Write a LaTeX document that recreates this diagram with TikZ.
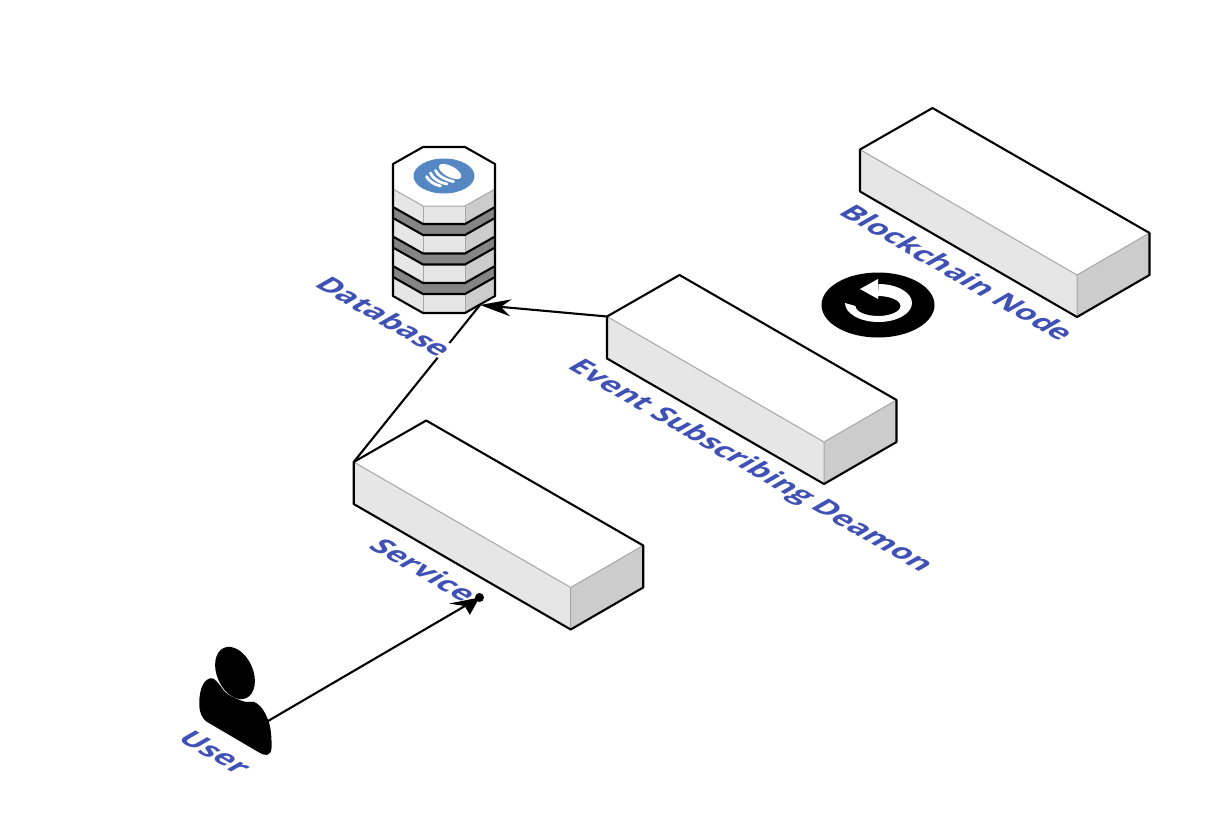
\documentclass[tikz,border=0pt]{standalone}
\usepackage{fontspec}
\setmainfont{Open Sans}
\usetikzlibrary{arrows.meta}
\definecolor{lbl}{HTML}{3F51B5}
\definecolor{facefront}{HTML}{E6E6E6}
\definecolor{faceright}{HTML}{CCCCCC}
\definecolor{band}{HTML}{858585}
\definecolor{edgegrey}{HTML}{A6A6A6}
\definecolor{logo}{HTML}{5588C2}
\tikzset{
  outline/.style={draw=black,line width=2.1pt,line join=round},
  inner edge/.style={draw=edgegrey,line width=1pt},
  conn/.style={draw=black,line width=2.1pt},
  stripe/.style={draw=white,line width=2.8pt,line cap=round},
  isolabel/.style={text=lbl,font=\fontsize{30.8}{35}\selectfont\bfseries,inner sep=0pt,
     cm={0.866,-0.5,0.78,0.45,(0,0)}},
  blockbox/.pic={
    \fill[white] (0,0)--(72.5,-41.5)--(289.5,83.5)--(217,125.5)--cycle;
    \fill[facefront] (0,0)--(217,125.5)--(217,167.5)--(0,42)--cycle;
    \fill[faceright] (217,125.5)--(289.5,83.5)--(289.5,125.5)--(217,167.5)--cycle;
    \draw[inner edge] (0,0)--(217,125.5)--(289.5,83.5) (217,125.5)--(217,167.5);
    \draw[outline] (0,0)--(72.5,-41.5)--(289.5,83.5)--(289.5,125.5)--(217,167.5)--(0,42)--cycle;
  }
}
\begin{document}
\begin{tikzpicture}[x=1pt,y=1pt,yscale=-1]
\useasboundingbox (0,0) rectangle (1206,822);
% boxes
\pic[yscale=-1] at (860,149.5) {blockbox};
\pic[yscale=-1] at (607,316.5) {blockbox};
\pic[yscale=-1] at (353.7,462) {blockbox};
% database body
\fill[faceright] (465,147)--(495,164)--(495,296)--(465,313)--cycle;
\fill[facefront] (423,147)--(465,147)--(465,313)--(423,313)--(393,296)--(393,164)--cycle;
\draw[inner edge,draw=edgegrey] (423,206)--(423,313) (465,206)--(465,313);
\foreach \d in {0,29.5,59}{
  \fill[band] (393,207+\d)--(423,224+\d)--(465,224+\d)--(495,207+\d)--(495,218+\d)--(465,235+\d)--(423,235+\d)--(393,218+\d)--cycle;
  \draw[outline] (393,207+\d)--(423,224+\d)--(465,224+\d)--(495,207+\d);
  \draw[outline] (393,218+\d)--(423,235+\d)--(465,235+\d)--(495,218+\d);
}
\fill[white] (423,147)--(465,147)--(495,164)--(495,189)--(465,206)--(423,206)--(393,189)--(393,164)--cycle;
\draw[inner edge] (393,189)--(423,206)--(465,206)--(495,189);
\draw[outline] (423,147)--(465,147)--(495,164)--(495,296)--(465,313)--(423,313)--(393,296)--(393,164)--cycle;
% logo
\fill[logo] (444,176) ellipse [x radius=30.5,y radius=17.5];
\fill[white,rotate around={28:(450,171.5)}] (450,171.5) ellipse [x radius=12.5,y radius=5.5];
\draw[stripe] (435.5,170.5) .. controls (437,175) and (445,180) .. (453.5,181.5);
\draw[stripe] (430.5,173) .. controls (432,178) and (440,183) .. (447,184);
\draw[stripe] (426.5,176.5) .. controls (428,180) and (434,185) .. (440.5,186);
% refresh symbol
\fill[black] (878,305) ellipse [x radius=56.5,y radius=32.5];
\fill[white] (845,303) arc[start angle=180,end angle=-90,x radius=33.5,y radius=19] --
  (878,296) arc[start angle=-90,end angle=180,x radius=22.5,y radius=10] -- cycle;
\fill[white,line join=round] (860,289)--(878,279)--(878,299)--cycle;
% user
\fill[black,rotate around={66:(235,673)}] (235,673) ellipse [x radius=27.5,y radius=18];
\fill[black] (210,678.3) .. controls (201,681) and (199,695) .. (199.3,705)
  .. controls (199.5,713) and (202,718) .. (206.7,721.7)
  -- (258.3,752) .. controls (264,756) and (271,757) .. (271.5,748)
  .. controls (272,735) and (270,722) .. (266.7,716.7)
  .. controls (263,708) and (258,703) .. (253.3,701.7)
  .. controls (248,702) and (244,702) .. (241.7,700.7)
  .. controls (234,698) and (228,695) .. (225,691.7)
  .. controls (221,688) and (216,677) .. (210,678.3) -- cycle;
% anchor coordinates
\coordinate (userport) at (268,721);
\coordinate (serviceport) at (479.5,597.5);
\coordinate (dbport) at (480,305);
\coordinate (eventcorner) at (607,316.5);
\coordinate (servicecorner) at (353.7,462);
% connectors
\draw[conn] (servicecorner) -- (dbport);
\node[isolabel,fill=white] (lblDatabase) at (384.8,316.5) {Database};
\draw[conn,-{Stealth[length=23pt,width=20pt,inset=6pt,slant=-0.6]}] (userport) -- (serviceport);
\fill[black] (serviceport) circle (4.5);
\draw[conn,-{Stealth[length=31pt,width=17pt,inset=10pt]}] (eventcorner) -- (dbport);
% labels
\node[isolabel] (lblBlockchain) at (958.2,272.5) {Blockchain Node};
\node[isolabel] (lblEvent) at (750,466.5) {Event Subscribing Deamon};
\node[isolabel] (lblService) at (424.2,569.5) {Service};
\node[isolabel] (lblUser) at (215.8,752.5) {User};
\end{tikzpicture}
\end{document}
